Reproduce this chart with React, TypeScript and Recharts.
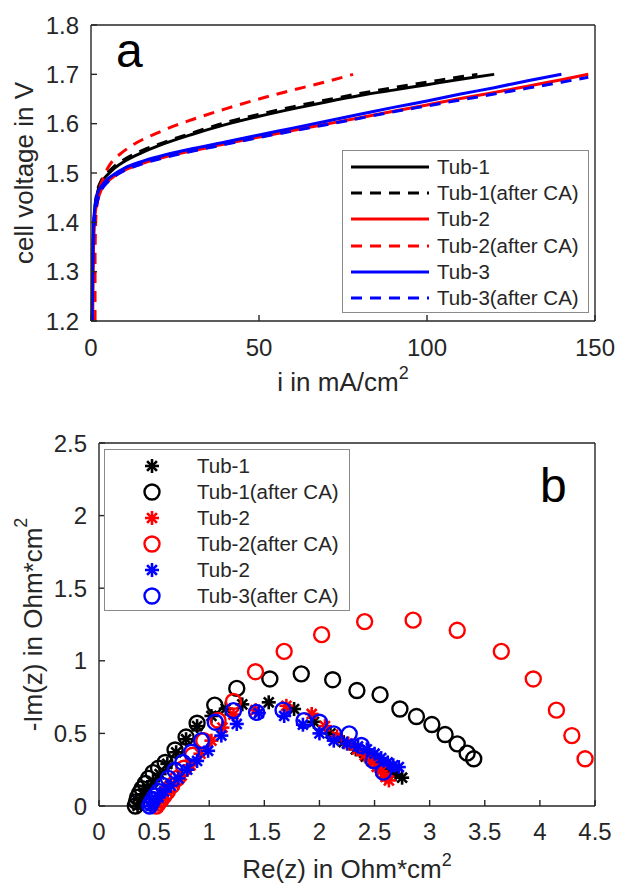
import { Line, LineChart, Scatter, ScatterChart, XAxis, YAxis } from "recharts";

// polarisation curves (a)
const tub1Current = [0.4, 0.5, 0.7, 1, 1.5, 2, 3, 5, 7, 10, 15, 20, 30, 40, 50, 60, 70, 80, 90, 100, 110, 120];
const tub1Voltage = [1.2, 1.28, 1.36, 1.41, 1.445, 1.463, 1.48, 1.497, 1.51, 1.524, 1.541, 1.555, 1.578, 1.598, 1.615, 1.63, 1.644, 1.657, 1.668, 1.679, 1.69, 1.7];
const tub1CaCurrent = [0.4, 0.5, 0.7, 1, 1.5, 2, 3, 5, 7, 10, 15, 20, 30, 40, 50, 60, 70, 80, 90, 100, 110, 115];
const tub1CaVoltage = [1.2, 1.29, 1.37, 1.415, 1.45, 1.467, 1.484, 1.501, 1.514, 1.528, 1.545, 1.558, 1.581, 1.602, 1.619, 1.634, 1.648, 1.661, 1.673, 1.684, 1.695, 1.7];
const tub2Current = [0.5, 0.6, 0.8, 1, 1.5, 2, 3, 5, 7, 10, 15, 20, 30, 40, 50, 60, 70, 80, 90, 100, 110, 120, 130, 140, 148];
const tub2Voltage = [1.2, 1.28, 1.36, 1.4, 1.43, 1.445, 1.465, 1.483, 1.494, 1.506, 1.519, 1.529, 1.545, 1.559, 1.573, 1.586, 1.599, 1.612, 1.625, 1.638, 1.651, 1.663, 1.676, 1.689, 1.7];
const tub2CaCurrent = [1.2, 1.2, 1.4, 1.7, 2.2, 2.7, 3.5, 5, 6.5, 8.6, 12, 16, 20, 25, 30, 40, 50, 60, 70, 78];
const tub2CaVoltage = [1.2, 1.33, 1.4, 1.43, 1.455, 1.471, 1.487, 1.51, 1.525, 1.538, 1.555, 1.57, 1.582, 1.596, 1.608, 1.63, 1.65, 1.668, 1.685, 1.7];
const tub3Current = [0.3, 0.4, 0.5, 0.7, 1, 1.8, 3, 5, 7, 10, 15, 20, 30, 40, 50, 60, 70, 80, 90, 100, 110, 120, 130, 140];
const tub3Voltage = [1.2, 1.27, 1.33, 1.39, 1.42, 1.455, 1.472, 1.488, 1.498, 1.51, 1.523, 1.533, 1.549, 1.563, 1.577, 1.591, 1.605, 1.619, 1.633, 1.646, 1.66, 1.673, 1.687, 1.7];
const tub3CaCurrent = [0.4, 0.5, 0.7, 1, 1.5, 2, 3, 5, 7, 10, 15, 20, 30, 40, 50, 60, 70, 80, 90, 100, 110, 120, 130, 140, 148];
const tub3CaVoltage = [1.2, 1.27, 1.35, 1.4, 1.43, 1.445, 1.464, 1.482, 1.493, 1.505, 1.518, 1.528, 1.544, 1.558, 1.572, 1.585, 1.598, 1.611, 1.624, 1.636, 1.648, 1.66, 1.672, 1.684, 1.694];

const currentTicks = [0, 50, 100, 150];
const voltageTicks = [1.2, 1.3, 1.4, 1.5, 1.6, 1.7, 1.8];

// impedance spectra (b)
const tub1Re = [0.35, 0.37, 0.4, 0.44, 0.49, 0.55, 0.62, 0.7, 0.79, 0.89, 1.02, 1.15, 1.3, 1.54, 1.77, 1.95, 2.1, 2.22, 2.33, 2.42, 2.5, 2.57, 2.63, 2.69, 2.75];
const tub1Im = [0, 0.04, 0.08, 0.12, 0.17, 0.22, 0.29, 0.37, 0.46, 0.55, 0.62, 0.67, 0.7, 0.714, 0.668, 0.58, 0.5, 0.44, 0.39, 0.34, 0.31, 0.28, 0.25, 0.22, 0.195];
const tub1CaRe = [0.33, 0.34, 0.35, 0.37, 0.39, 0.42, 0.45, 0.49, 0.54, 0.6, 0.69, 0.79, 0.89, 1.05, 1.25, 1.55, 1.835, 2.12, 2.34, 2.55, 2.73, 2.88, 3.02, 3.14, 3.25, 3.34, 3.4];
const tub1CaIm = [0, 0.03, 0.06, 0.09, 0.12, 0.155, 0.19, 0.23, 0.26, 0.3, 0.386, 0.475, 0.57, 0.695, 0.81, 0.875, 0.91, 0.87, 0.795, 0.767, 0.668, 0.616, 0.561, 0.492, 0.428, 0.364, 0.325];
const tub2Re = [0.5, 0.53, 0.57, 0.62, 0.68, 0.75, 0.83, 0.92, 1.02, 1.12, 1.22, 1.42, 1.7, 1.93, 2.05, 2.16, 2.26, 2.34, 2.41, 2.47, 2.52, 2.56, 2.6, 2.63];
const tub2Im = [0, 0.03, 0.06, 0.1, 0.15, 0.21, 0.28, 0.36, 0.45, 0.54, 0.63, 0.66, 0.69, 0.634, 0.55, 0.48, 0.43, 0.39, 0.35, 0.31, 0.27, 0.24, 0.2, 0.176];
const tub2CaRe = [0.52, 0.54, 0.56, 0.59, 0.62, 0.66, 0.71, 0.77, 0.85, 0.95, 1.08, 1.22, 1.42, 1.68, 2.02, 2.41, 2.85, 3.25, 3.65, 3.94, 4.15, 4.29, 4.41];
const tub2CaIm = [0, 0.02, 0.04, 0.07, 0.1, 0.14, 0.19, 0.26, 0.35, 0.45, 0.59, 0.72, 0.925, 1.065, 1.18, 1.27, 1.28, 1.21, 1.065, 0.875, 0.66, 0.485, 0.325];
const tub3Re = [0.47, 0.5, 0.54, 0.59, 0.65, 0.72, 0.8, 0.89, 0.99, 1.11, 1.25, 1.45, 1.68, 1.85, 2.0, 2.13, 2.25, 2.35, 2.43, 2.5, 2.56, 2.62, 2.67, 2.72];
const tub3Im = [0, 0.03, 0.06, 0.1, 0.14, 0.19, 0.25, 0.31, 0.38, 0.485, 0.565, 0.64, 0.62, 0.56, 0.5, 0.45, 0.43, 0.41, 0.39, 0.36, 0.33, 0.3, 0.28, 0.268];
const tub3CaRe = [0.46, 0.47, 0.49, 0.51, 0.54, 0.58, 0.63, 0.69, 0.76, 0.84, 0.93, 1.055, 1.22, 1.43, 1.67, 1.86, 2.0, 2.13, 2.27, 2.38, 2.49, 2.58];
const tub3CaIm = [0, 0.02, 0.045, 0.07, 0.1, 0.14, 0.19, 0.245, 0.3, 0.37, 0.45, 0.577, 0.657, 0.645, 0.66, 0.588, 0.577, 0.497, 0.497, 0.417, 0.313, 0.233];

const reTicks = [0, 0.5, 1, 1.5, 2, 2.5, 3, 3.5, 4, 4.5];
const imTicks = [0, 0.5, 1, 1.5, 2, 2.5];

const FONT = "'Liberation Sans', Arial, Helvetica, sans-serif";
const AXIS = "#262626";

const zip = (xs: number[], ys: number[]) => xs.map((x, k) => ({ x, y: ys[k] }));

const curves = [
  { name: "Tub-1", color: "#000000", dash: undefined, data: zip(tub1Current, tub1Voltage) },
  { name: "Tub-1(after CA)", color: "#000000", dash: "11 8", data: zip(tub1CaCurrent, tub1CaVoltage) },
  { name: "Tub-2", color: "#ff0000", dash: undefined, data: zip(tub2Current, tub2Voltage) },
  { name: "Tub-2(after CA)", color: "#ff0000", dash: "11 8", data: zip(tub2CaCurrent, tub2CaVoltage) },
  { name: "Tub-3", color: "#0000ff", dash: undefined, data: zip(tub3Current, tub3Voltage) },
  { name: "Tub-3(after CA)", color: "#0000ff", dash: "11 8", data: zip(tub3CaCurrent, tub3CaVoltage) },
];

const spectra = [
  { name: "Tub-1", color: "#000000", marker: "star", data: zip(tub1Re, tub1Im) },
  { name: "Tub-1(after CA)", color: "#000000", marker: "circle", data: zip(tub1CaRe, tub1CaIm) },
  { name: "Tub-2", color: "#ff0000", marker: "star", data: zip(tub2Re, tub2Im) },
  { name: "Tub-2(after CA)", color: "#ff0000", marker: "circle", data: zip(tub2CaRe, tub2CaIm) },
  { name: "Tub-2", color: "#0000ff", marker: "star", data: zip(tub3Re, tub3Im) },
  { name: "Tub-3(after CA)", color: "#0000ff", marker: "circle", data: zip(tub3CaRe, tub3CaIm) },
];

const tickStyle = { fontSize: 24, fill: AXIS, fontFamily: FONT };

function Marker({ cx, cy, kind, color }: { cx: number; cy: number; kind: string; color: string }) {
  if (kind === "circle") {
    return <circle cx={cx} cy={cy} r={7.5} fill="none" stroke={color} strokeWidth={2.4} />;
  }
  const r = 7;
  const d = r * 0.7071;
  return (
    <g stroke={color} strokeWidth={2.6}>
      <line x1={cx - r} y1={cy} x2={cx + r} y2={cy} />
      <line x1={cx} y1={cy - r} x2={cx} y2={cy + r} />
      <line x1={cx - d} y1={cy - d} x2={cx + d} y2={cy + d} />
      <line x1={cx - d} y1={cy + d} x2={cx + d} y2={cy - d} />
    </g>
  );
}

function XTitle(text: string, dy: number) {
  return ({ viewBox }: any) => (
    <text x={viewBox.x + viewBox.width / 2} y={viewBox.y + dy} textAnchor="middle" fontSize={26} fill={AXIS} fontFamily={FONT}>
      {text}
      <tspan dy={-12} fontSize={18}>2</tspan>
    </text>
  );
}

function YTitle(text: string, sup: boolean, cx: number) {
  return ({ viewBox }: any) => {
    const cy = viewBox.y + viewBox.height / 2;
    return (
      <text x={cx} y={cy} transform={`rotate(-90 ${cx} ${cy})`} textAnchor="middle" dominantBaseline="central" fontSize={26} fill={AXIS} fontFamily={FONT}>
        {text}
        {sup && <tspan dy={-12} fontSize={18}>2</tspan>}
      </text>
    );
  };
}

function CurveLegend() {
  return (
    <div style={{ position: "absolute", left: 342, top: 150, width: 247, height: 163, border: "1px solid #8a8a8a", background: "#fff", paddingTop: 3, boxSizing: "border-box" }}>
      {curves.map((c) => (
        <div key={c.name} style={{ height: 26.2, display: "flex", alignItems: "center" }}>
          <svg width={94} height={10} style={{ flex: "none" }}>
            <line x1={8} y1={5} x2={86} y2={5} stroke={c.color} strokeWidth={3} strokeDasharray={c.dash} />
          </svg>
          <span style={{ fontFamily: FONT, fontSize: 20.5, color: AXIS }}>{c.name}</span>
        </div>
      ))}
    </div>
  );
}

function SpectraLegend() {
  return (
    <div style={{ position: "absolute", left: 104, top: 449, width: 246, height: 162, border: "1px solid #8a8a8a", background: "#fff", paddingTop: 3, boxSizing: "border-box" }}>
      {spectra.map((s, k) => (
        <div key={k} style={{ height: 26, display: "flex", alignItems: "center" }}>
          <svg width={92} height={22} style={{ flex: "none" }}>
            <Marker cx={47} cy={11} kind={s.marker} color={s.color} />
          </svg>
          <span style={{ fontFamily: FONT, fontSize: 20.5, color: AXIS }}>{s.name}</span>
        </div>
      ))}
    </div>
  );
}

const hidden = () => <g />;

export default function App() {
  return (
    <div style={{ position: "relative", width: 619, height: 884, background: "#fff", overflow: "hidden" }}>
      <style>{"body{margin:0}"}</style>
      <div style={{ position: "absolute", left: 0, top: 0 }}>
        <LineChart width={619} height={400} margin={{ top: 24, right: 23, bottom: 0, left: 0 }}>
          <XAxis
            dataKey="x"
            type="number"
            domain={[0, 150]}
            ticks={currentTicks}
            interval={0}
            height={79}
            tickSize={-6}
            tickMargin={24}
            tick={tickStyle}
            stroke={AXIS}
            strokeWidth={1.4}
            label={{ content: XTitle("i in mA/cm", 70) }}
          />
          <XAxis xAxisId="top" orientation="top" dataKey="x" type="number" domain={[0, 150]} ticks={currentTicks} interval={0} height={1} tickSize={-6} tick={false} stroke={AXIS} strokeWidth={1.4} />
          <YAxis
            dataKey="y"
            type="number"
            domain={[1.2, 1.8]}
            ticks={voltageTicks}
            interval={0}
            width={91}
            tickSize={-6}
            tickMargin={18}
            tick={tickStyle}
            tickFormatter={(v: number) => v.toFixed(1)}
            stroke={AXIS}
            strokeWidth={1.4}
            label={{ content: YTitle("cell voltage in V", false, 24) }}
          />
          <YAxis yAxisId="right" orientation="right" dataKey="y" type="number" domain={[1.2, 1.8]} ticks={voltageTicks} interval={0} width={1} tickSize={-6} tick={false} stroke={AXIS} strokeWidth={1.4} />
          <Line xAxisId="top" yAxisId="right" data={curves[0].data} dataKey="y" stroke="none" dot={false} activeDot={false} isAnimationActive={false} />
          {curves.map((c) => (
            <Line
              key={c.name}
              data={c.data}
              dataKey="y"
              type="monotone"
              stroke={c.color}
              strokeWidth={3}
              strokeDasharray={c.dash}
              dot={false}
              isAnimationActive={false}
            />
          ))}
        </LineChart>
        <CurveLegend />
        <div style={{ position: "absolute", left: 116, top: 27, fontFamily: FONT, fontSize: 48, lineHeight: "48px", color: "#000" }}>a</div>
      </div>

      <div style={{ position: "absolute", left: 0, top: 400, width: 619, height: 484 }}>
        <ScatterChart width={619} height={484} margin={{ top: 42, right: 23, bottom: 0, left: 0 }}>
          <XAxis
            dataKey="x"
            type="number"
            domain={[0, 4.5]}
            ticks={reTicks}
            interval={0}
            height={78}
            tickSize={-6}
            tickMargin={23}
            tick={tickStyle}
            stroke={AXIS}
            strokeWidth={1.4}
            label={{ content: XTitle("Re(z) in Ohm*cm", 72) }}
          />
          <XAxis xAxisId="top" orientation="top" dataKey="x" type="number" domain={[0, 4.5]} ticks={reTicks} interval={0} height={1} tickSize={-6} tick={false} stroke={AXIS} strokeWidth={1.4} />
          <YAxis
            dataKey="y"
            type="number"
            domain={[0, 2.5]}
            ticks={imTicks}
            interval={0}
            width={99}
            tickSize={-6}
            tickMargin={18}
            tick={tickStyle}
            stroke={AXIS}
            strokeWidth={1.4}
            label={{ content: YTitle("-Im(z) in Ohm*cm", true, 33) }}
          />
          <YAxis yAxisId="right" orientation="right" dataKey="y" type="number" domain={[0, 2.5]} ticks={imTicks} interval={0} width={1} tickSize={-6} tick={false} stroke={AXIS} strokeWidth={1.4} />
          <Scatter xAxisId="top" yAxisId="right" data={spectra[0].data} shape={hidden} isAnimationActive={false} />
          {spectra.map((s, k) => (
            <Scatter
              key={k}
              data={s.data}
              isAnimationActive={false}
              shape={(p: any) => <Marker cx={p.cx} cy={p.cy} kind={s.marker} color={s.color} />}
            />
          ))}
        </ScatterChart>
      </div>
      <SpectraLegend />
      <div style={{ position: "absolute", left: 540, top: 462, fontFamily: FONT, fontSize: 48, lineHeight: "48px", color: "#000" }}>b</div>
    </div>
  );
}
